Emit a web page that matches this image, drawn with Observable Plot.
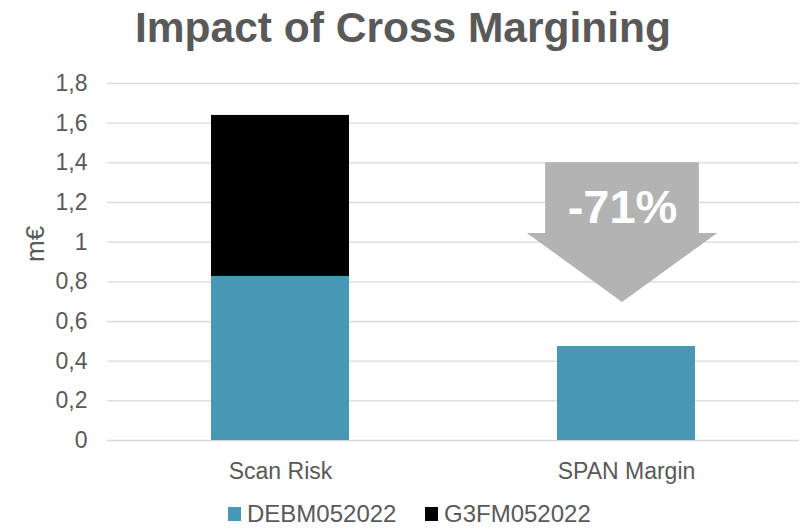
<!DOCTYPE html>
<html>
<head>
<meta charset="utf-8">
<script src="https://cdn.jsdelivr.net/npm/d3@7"></script>
<script src="https://cdn.jsdelivr.net/npm/@observablehq/plot@0.6"></script>
<style>
  html, body { margin: 0; padding: 0; background: #fff; }
  #wrap { position: relative; width: 802px; height: 529px; font-family: "Liberation Sans", Arial, sans-serif; color: #595959; overflow: hidden; }
  #title { height: 55px; line-height: 55px; font-size: 42.5px; font-weight: bold; text-align: center; color: #595959; padding-left: 4px; }
  #legend { position: relative; height: 34px; font-size: 24px; }
  .item { position: absolute; top: 5px; height: 28px; line-height: 28px; display: flex; align-items: center; white-space: nowrap; }
  .sw { width: 13px; height: 14px; margin-right: 6px; display: inline-block; }
  svg { display: block; }
</style>
</head>
<body>
<div id="wrap">
  <div id="title">Impact of Cross Margining</div>
  <div id="chart"></div>
  <div id="legend"></div>
</div>
<script>
// ---- data ----
const categories = ["Scan Risk", "SPAN Margin"];
const seriesNames = ["DEBM052022", "G3FM052022"];
const debmValues = [0.827, 0.474];
const g3fmValues = [0.812, 0];
const yTicks = [0, 0.2, 0.4, 0.6, 0.8, 1, 1.2, 1.4, 1.6, 1.8];
const changeLabel = "-71%";
const yLabel = "m€";
const seriesColors = ["#4897b4", "#000000"];

// arrow annotation levels (in y units) on the SPAN Margin category
const arrowTop = 1.4, arrowNeck = 1.044, arrowTip = 0.696;

const rows = [];
categories.forEach((c, i) => {
  rows.push({category: c, series: seriesNames[0], value: debmValues[i]});
  rows.push({category: c, series: seriesNames[1], value: g3fmValues[i]});
});

function arrowMark(index, scales, values, dimensions, context) {
  const x = scales.x, y = scales.y;
  let bw = typeof x.bandwidth === "function" ? x.bandwidth() : x.bandwidth;
  if (!(bw > 0)) bw = 139;
  const cx = x("SPAN Margin") + bw / 2 - 4;
  const sh = bw * 0.557, hh = bw * 0.69;
  const yt = y(arrowTop), yn = y(arrowNeck), yp = y(arrowTip);
  const pts = [[cx - sh, yt], [cx + sh, yt], [cx + sh, yn], [cx + hh, yn], [cx, yp], [cx - hh, yn], [cx - sh, yn]];
  const el = document.createElementNS("http://www.w3.org/2000/svg", "polygon");
  el.setAttribute("points", pts.map(p => p.join(",")).join(" "));
  el.setAttribute("fill", "#b3b3b3");
  return el;
}

const chart = Plot.plot({
  width: 802,
  height: 440,
  marginTop: 28,
  marginBottom: 55,
  marginLeft: 107,
  marginRight: 3,
  style: {fontFamily: '"Liberation Sans", Arial, sans-serif', fontSize: "23px", color: "#595959", background: "#fff"},
  x: {domain: categories, paddingInner: 0.6, paddingOuter: 0.3, tickSize: 0, tickPadding: 22, label: null},
  y: {domain: [0, 1.8], ticks: yTicks, tickSize: 0, tickPadding: 20, label: null,
      tickFormat: d => String(d).replace(".", ",")},
  color: {domain: seriesNames, range: seriesColors},
  marks: [
    Plot.ruleY(yTicks, {stroke: "#d9d9d9", strokeWidth: 1.3}),
    Plot.barY(rows, Plot.stackY({x: "category", y: "value", fill: "series", order: seriesNames})),
    arrowMark,
    Plot.text([changeLabel], {x: () => "SPAN Margin", y: () => 1.175, text: d => d, dx: -4,
      fill: "white", fontSize: 47, fontWeight: "bold"}),
    Plot.text([yLabel], {frameAnchor: "left", dx: -72, rotate: -90, text: d => d, fill: "#595959", fontSize: 26})
  ]
});
document.getElementById("chart").appendChild(chart);

// legend
const legend = document.getElementById("legend");
const lefts = [228, 425];
seriesNames.forEach((s, i) => {
  const it = document.createElement("div");
  it.className = "item";
  it.style.left = lefts[i] + "px";
  const sw = document.createElement("span");
  sw.className = "sw";
  sw.style.background = seriesColors[i];
  it.appendChild(sw);
  it.appendChild(document.createTextNode(s));
  legend.appendChild(it);
});
</script>
</body>
</html>
